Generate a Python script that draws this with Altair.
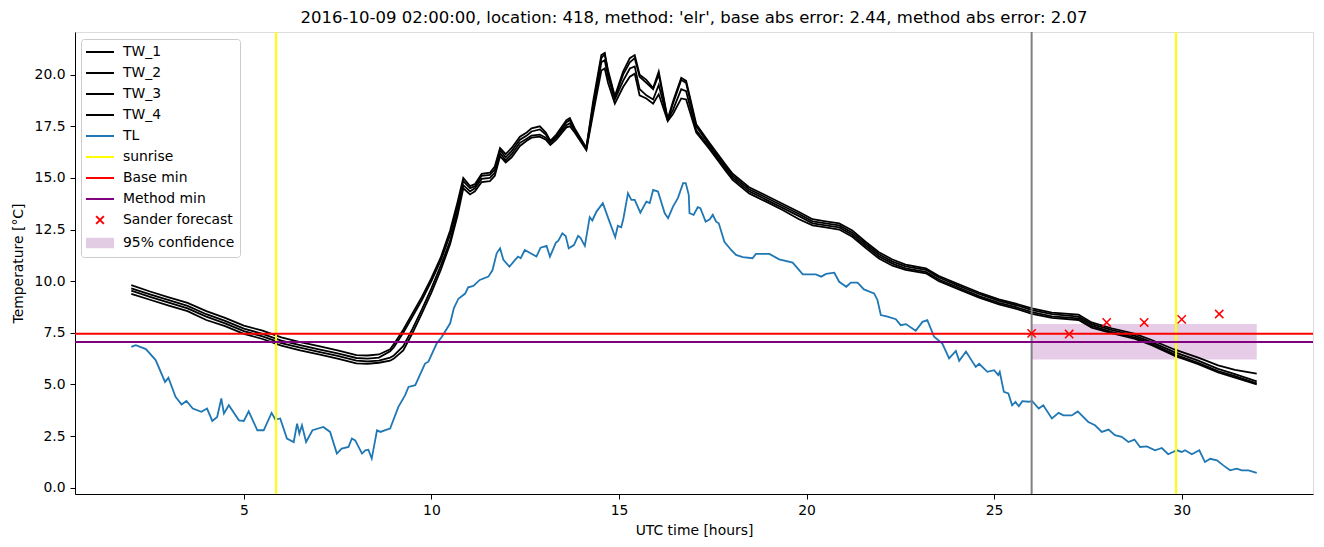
import altair as alt
import pandas as pd

# ---------------- data ----------------
tw_time = [2.0, 2.5, 3.0, 3.5, 4.0, 4.5, 5.0, 5.5, 6.0, 6.5, 7.0, 7.5, 8.0, 8.3, 8.6, 8.9,
           9.0, 9.25, 9.5, 9.75, 10.0, 10.25, 10.5, 10.7, 10.85, 11.03, 11.16, 11.34, 11.56,
           11.69, 11.83, 11.98, 12.14, 12.36, 12.54, 12.67, 12.89, 13.05, 13.17, 13.33, 13.6,
           13.69, 13.82, 14.13, 14.31, 14.53, 14.62, 14.71, 14.89, 15.11, 15.29, 15.42, 15.55,
           15.73, 15.91, 16.06, 16.3, 16.44, 16.66, 16.79, 17.06, 17.41, 17.86, 18.03, 18.47,
           18.92, 19.36, 19.8, 20.16, 20.51, 20.87, 21.22, 21.58, 21.93, 22.29, 22.64, 23.18,
           23.53, 24.06, 24.6, 25.13, 25.66, 26.01, 26.54, 27.25, 27.6, 28.13, 28.76, 29.2,
           29.82, 30.44, 30.97, 31.42, 32.0]

tw_1 = [9.81, 9.5, 9.22, 8.95, 8.55, 8.22, 7.85, 7.6, 7.28, 7.05, 6.85, 6.65, 6.42, 6.4, 6.45, 6.7,
        6.95, 7.65, 8.45, 9.25, 10.15, 11.15, 12.45, 13.85, 15.0, 14.6, 14.7, 15.2, 15.25,
        15.55, 16.45, 16.15, 16.45, 17.0, 17.2, 17.4, 17.5, 17.2, 16.8, 17.1, 17.8,
        17.9, 17.4, 16.45, 18.7, 20.95, 21.05, 20.2, 18.95, 20.15, 20.8, 20.95, 20.0,
        19.75, 19.35, 20.15, 17.85, 18.7, 19.85, 19.7, 17.6, 16.7, 15.6, 15.2, 14.55,
        14.15, 13.75, 13.35, 13.0, 12.9, 12.8, 12.45, 11.9, 11.4, 11.05, 10.8, 10.62,
        10.25, 9.85, 9.45, 9.12, 8.87, 8.68, 8.48, 8.38, 8.0, 7.72, 7.45, 7.15,
        6.68, 6.3, 5.92, 5.7, 5.52]

tw_2 = [9.65, 9.36, 9.08, 8.8, 8.4, 8.08, 7.7, 7.45, 7.12, 6.9, 6.7, 6.5, 6.28, 6.25, 6.3, 6.6,
        6.8, 7.5, 8.3, 9.1, 10.0, 11.0, 12.25, 13.65, 14.85, 14.5, 14.6, 15.1, 15.15,
        15.4, 16.35, 16.0, 16.3, 16.85, 17.05, 17.25, 17.35, 17.1, 16.75, 17.0, 17.7,
        17.8, 17.35, 16.45, 18.5, 20.8, 21.0, 20.1, 18.9, 20.0, 20.6, 20.8, 19.9,
        19.6, 19.3, 20.0, 17.8, 18.6, 19.75, 19.6, 17.5, 16.6, 15.5, 15.1, 14.45,
        14.05, 13.65, 13.25, 12.9, 12.8, 12.7, 12.35, 11.8, 11.3, 10.95, 10.72, 10.55,
        10.18, 9.77, 9.38, 9.05, 8.8, 8.6, 8.4, 8.28, 7.92, 7.64, 7.35, 7.05,
        6.55, 6.15, 5.75, 5.5, 5.15]

tw_3 = [9.54, 9.24, 8.96, 8.68, 8.28, 7.96, 7.58, 7.33, 7.0, 6.78, 6.58, 6.38, 6.15, 6.12, 6.15, 6.3,
        6.4, 6.85, 7.7, 8.65, 9.65, 10.75, 11.95, 13.4, 14.65, 14.35, 14.5, 14.95, 15.0,
        15.25, 16.2, 15.85, 16.15, 16.7, 16.9, 17.05, 17.1, 16.95, 16.7, 16.95, 17.55,
        17.65, 17.3, 16.4, 18.3, 20.6, 20.7, 19.9, 18.8, 19.7, 20.3, 20.4, 19.3,
        19.0, 18.8, 19.5, 17.8, 18.3, 19.3, 19.2, 17.3, 16.5, 15.4, 15.0, 14.35,
        13.95, 13.55, 13.15, 12.8, 12.7, 12.6, 12.25, 11.7, 11.2, 10.85, 10.62, 10.45,
        10.08, 9.68, 9.28, 8.95, 8.7, 8.5, 8.3, 8.2, 7.83, 7.55, 7.27, 6.97,
        6.45, 6.05, 5.65, 5.4, 5.05]

tw_4 = [9.38, 9.1, 8.82, 8.55, 8.12, 7.82, 7.45, 7.2, 6.88, 6.65, 6.45, 6.25, 6.02, 6.0, 6.05, 6.15,
        6.25, 6.65, 7.5, 8.45, 9.45, 10.55, 11.8, 13.2, 14.5, 14.2, 14.35, 14.8, 14.85,
        15.1, 16.05, 15.75, 16.0, 16.55, 16.8, 16.95, 17.0, 16.85, 16.6, 16.85, 17.45,
        17.5, 17.2, 16.35, 18.1, 20.2, 20.3, 19.6, 18.6, 19.4, 19.9, 20.05, 19.0,
        18.85, 18.6, 19.05, 17.75, 18.1, 18.85, 18.8, 17.2, 16.4, 15.3, 14.9, 14.25,
        13.85, 13.45, 13.0, 12.7, 12.6, 12.5, 12.15, 11.6, 11.1, 10.75, 10.55, 10.38,
        10.0, 9.6, 9.2, 8.88, 8.62, 8.42, 8.22, 8.12, 7.75, 7.48, 7.2, 6.9,
        6.38, 5.98, 5.58, 5.33, 5.0]

tl_time = [2.0, 2.12, 2.39, 2.65, 2.9, 2.99, 3.18, 3.34, 3.47, 3.64, 3.87, 4.02, 4.16, 4.29, 4.4,
           4.47, 4.6, 4.87, 5.0, 5.13, 5.36, 5.53, 5.74, 5.84, 5.97, 6.15, 6.33, 6.42, 6.48,
           6.55, 6.66, 6.83, 7.12, 7.3, 7.48, 7.61, 7.79, 7.88, 7.97, 8.15, 8.24, 8.32, 8.41,
           8.55, 8.64, 8.81, 8.9, 9.12, 9.3, 9.39, 9.57, 9.83, 9.92, 10.14, 10.28, 10.5, 10.6,
           10.72, 10.9, 10.98, 11.12, 11.29, 11.52, 11.63, 11.74, 11.83, 11.92, 12.08, 12.23,
           12.31, 12.38, 12.49, 12.62, 12.8, 12.91, 13.07, 13.16, 13.32, 13.38, 13.49, 13.58,
           13.66, 13.8, 13.91, 13.97, 14.09, 14.22, 14.29, 14.4, 14.57, 14.73, 14.9, 14.97,
           15.06, 15.12, 15.24, 15.33, 15.42, 15.57, 15.73, 15.82, 15.91, 16.04, 16.22, 16.31,
           16.44, 16.57, 16.71, 16.78, 16.86, 16.88, 16.99, 17.1, 17.17, 17.31, 17.42, 17.5,
           17.59, 17.66, 17.81, 17.99, 18.12, 18.3, 18.56, 18.65, 19.01, 19.27, 19.63, 19.9,
           20.25, 20.39, 20.52, 20.74, 20.87, 21.06, 21.18, 21.36, 21.53, 21.8, 21.89, 21.98,
           22.16, 22.38, 22.51, 22.65, 22.91, 23.09, 23.22, 23.4, 23.62, 23.8, 23.98, 24.07,
           24.25, 24.51, 24.6, 24.82, 25.0, 25.11, 25.15, 25.26, 25.38, 25.48, 25.57, 25.66,
           25.75, 25.92, 26.01, 26.19, 26.31, 26.54, 26.72, 26.85, 27.07, 27.23, 27.51, 27.69,
           27.87, 28.05, 28.22, 28.4, 28.58, 28.74, 28.89, 29.07, 29.29, 29.47, 29.64, 29.87,
           30.0, 30.09, 30.27, 30.47, 30.62, 30.76, 30.94, 31.11, 31.29, 31.47, 31.6, 31.78, 32.0]

tl_vals = [6.82, 6.9, 6.71, 6.18, 5.12, 5.32, 4.4, 4.03, 4.2, 3.83, 3.67, 3.83, 3.23, 3.42, 4.32,
           3.59, 3.99, 3.26, 3.23, 3.7, 2.78, 2.78, 3.62, 3.3, 3.35, 2.38, 2.21, 3.1, 2.62,
           3.02, 2.21, 2.78, 2.94, 2.7, 1.65, 1.89, 1.97, 2.38, 2.29, 1.65, 1.81, 1.84, 1.41,
           2.78, 2.7, 2.81, 2.86, 3.91, 4.48, 4.88, 4.96, 6.01, 6.1, 6.98, 7.31, 7.96, 8.7,
           9.15, 9.4, 9.7, 9.77, 10.06, 10.22, 10.54, 11.35, 11.59, 11.03, 10.7, 11.03,
           11.19, 11.11, 11.51, 11.38, 11.19, 11.62, 11.71, 11.19, 11.87, 11.95, 12.32, 12.19,
           11.59, 11.75, 12.19, 12.11, 11.71, 13.1, 12.94, 13.37, 13.78, 12.97, 12.13, 12.68,
           12.61, 13.05, 14.26, 13.94, 13.94, 13.32, 13.85, 13.78, 14.42, 14.34, 13.29, 13.05,
           13.61, 14.02, 14.75, 14.75, 14.18, 13.29, 13.21, 13.58, 13.53, 12.88, 13.0, 13.21,
           12.88, 12.8, 11.91, 11.51, 11.27, 11.16, 11.11, 11.32, 11.32, 11.06, 10.9, 10.33,
           10.33, 10.22, 10.35, 10.41, 9.97, 9.73, 9.93, 9.93, 9.6, 9.41, 9.09, 8.36,
           8.28, 8.16, 7.87, 7.92, 7.6, 8.03, 8.11, 7.31, 6.98, 6.26, 6.62, 6.14,
           6.59, 5.85, 6.0, 5.61, 5.69, 5.45, 5.61, 4.64, 4.56, 3.99, 4.15, 3.94,
           4.19, 4.16, 4.2, 3.83, 3.99, 3.35, 3.62, 3.5, 3.5, 3.69, 3.18, 3.02,
           2.7, 2.81, 2.54, 2.46, 2.21, 2.33, 1.97, 2.0, 1.81, 1.92, 1.62, 1.81,
           1.73, 1.81, 1.62, 1.81, 1.24, 1.4, 1.32, 1.08, 0.84, 0.92, 0.84, 0.84, 0.72]

sunrise_times = [5.86, 29.85]
forecast_start = [26.0]
base_min = [7.45]
method_min = [7.06]
forecast_time = [26, 27, 28, 29, 30, 31]
forecast_vals = [7.47, 7.44, 8.0, 8.0, 8.15, 8.41]
conf_start, conf_end = [26.0], [32.0]
conf_low, conf_high = [6.21], [7.92]

legend_labels = ["TW_1", "TW_2", "TW_3", "TW_4", "TL", "sunrise", "Base min",
                 "Method min", "Sander forecast", "95% confidence"]
legend_colors = ["black", "black", "black", "black", "#1f77b4", "yellow", "red",
                 "purple", "red", "#e2cce4"]

TITLE = ("2016-10-09 02:00:00, location: 418, method: 'elr', "
         "base abs error: 2.44, method abs error: 2.07")

# ---------------- frames ----------------
rows = []
for name, vals in [("TW_1", tw_1), ("TW_2", tw_2), ("TW_3", tw_3), ("TW_4", tw_4)]:
    for t, v in zip(tw_time, vals):
        rows.append({"t": t, "v": v, "series": name})
for t, v in zip(tl_time, tl_vals):
    rows.append({"t": t, "v": v, "series": "TL"})
lines_df = pd.DataFrame(rows)

sun_df = pd.DataFrame({"t": sunrise_times})
gray_df = pd.DataFrame({"t": forecast_start})
base_df = pd.DataFrame({"v": base_min})
meth_df = pd.DataFrame({"v": method_min})
fc_df = pd.DataFrame({"t": forecast_time, "v": forecast_vals,
                      "series": ["Sander forecast"] * len(forecast_time)})
conf_df = pd.DataFrame({"t0": conf_start, "t1": conf_end, "lo": conf_low, "hi": conf_high})

FONT = "DejaVu Sans"
xscale = alt.Scale(domain=[0.5, 33.5], nice=False, zero=False)
yscale = alt.Scale(domain=[-0.307, 22.067], nice=False, zero=False)

xaxis = alt.Axis(values=[5, 10, 15, 20, 25, 30], format="d", title="UTC time [hours]",
                 grid=False, tickSize=5, tickColor="black", domainColor="black",
                 labelFontSize=13.9, labelColor="black", labelFont=FONT,
                 titleFont=FONT, titleFontSize=13.9, titleFontWeight="normal",
                 titleColor="black", labelPadding=4, titlePadding=7)
yaxis = alt.Axis(values=[0, 2.5, 5, 7.5, 10, 12.5, 15, 17.5, 20], format=".1f",
                 title="Temperature [°C]", grid=False, tickSize=5, tickColor="black",
                 domainColor="black", labelFontSize=13.9, labelColor="black",
                 labelFont=FONT, titleFont=FONT, titleFontSize=13.9,
                 titleFontWeight="normal", titleColor="#000000", labelPadding=5,
                 titlePadding=9)

LINE_PATH = "M-2,0H2"
X_PATH = "M-0.55,-0.55L0.55,0.55M-0.55,0.55L0.55,-0.55"
STRIPE_PATH = ("M-2,-0.6H2M-2,-0.36H2M-2,-0.12H2M-2,0.12H2M-2,0.36H2M-2,0.6H2")
legend_shapes = [LINE_PATH] * 8 + [X_PATH, STRIPE_PATH]

legend = alt.Legend(
    orient="none", legendX=6, legendY=7,
    symbolSize=196, symbolStrokeWidth=2, symbolOffset=6,
    labelFont=FONT, labelFontSize=13.9, labelColor="black", labelOffset=15,
    rowPadding=6, padding=5,
    strokeColor="#cccccc", fillColor="rgba(255,255,255,0.8)", cornerRadius=3,
)

color_scale = alt.Scale(domain=legend_labels, range=legend_colors)
shape_scale = alt.Scale(domain=legend_labels, range=legend_shapes)

conf = alt.Chart(conf_df).mark_rect(color="purple", opacity=0.2).encode(
    x=alt.X("t0:Q", scale=xscale, axis=xaxis), x2="t1:Q",
    y=alt.Y("lo:Q", scale=yscale, axis=yaxis), y2="hi:Q")

lines = alt.Chart(lines_df).mark_line(strokeWidth=1.8).encode(
    x=alt.X("t:Q", scale=xscale, axis=xaxis),
    y=alt.Y("v:Q", scale=yscale, axis=yaxis),
    color=alt.Color("series:N", title=None, scale=color_scale, legend=legend),
    order=alt.Order("t:Q"))

sun = alt.Chart(sun_df).mark_rule(color="yellow", strokeWidth=2).encode(
    x=alt.X("t:Q", scale=xscale))
gray = alt.Chart(gray_df).mark_rule(color="gray", strokeWidth=2).encode(
    x=alt.X("t:Q", scale=xscale))
basel = alt.Chart(base_df).mark_rule(color="red", strokeWidth=2).encode(
    y=alt.Y("v:Q", scale=yscale))
methl = alt.Chart(meth_df).mark_rule(color="purple", strokeWidth=2).encode(
    y=alt.Y("v:Q", scale=yscale))
fc = alt.Chart(fc_df).mark_point(size=228, strokeWidth=1.5, filled=False, opacity=1).encode(
    x=alt.X("t:Q", scale=xscale), y=alt.Y("v:Q", scale=yscale),
    color=alt.Color("series:N", title=None, scale=color_scale, legend=legend),
    shape=alt.Shape("series:N", title=None, scale=shape_scale, legend=legend))

chart = alt.layer(conf, lines, sun, gray, basel, methl, fc).properties(
    width=1238, height=462,
    title=alt.TitleParams(TITLE, font=FONT, fontSize=16.5, fontWeight="normal",
                          color="black", anchor="middle", offset=5),
    autosize=alt.AutoSizeParams(type="none"),
    padding={"left": 67, "top": 24, "right": 3, "bottom": 44},
).configure_view(stroke="black", strokeWidth=1).configure(font=FONT, background="white")

chart.save("out.html", embed_options={"renderer": "svg", "actions": False})
